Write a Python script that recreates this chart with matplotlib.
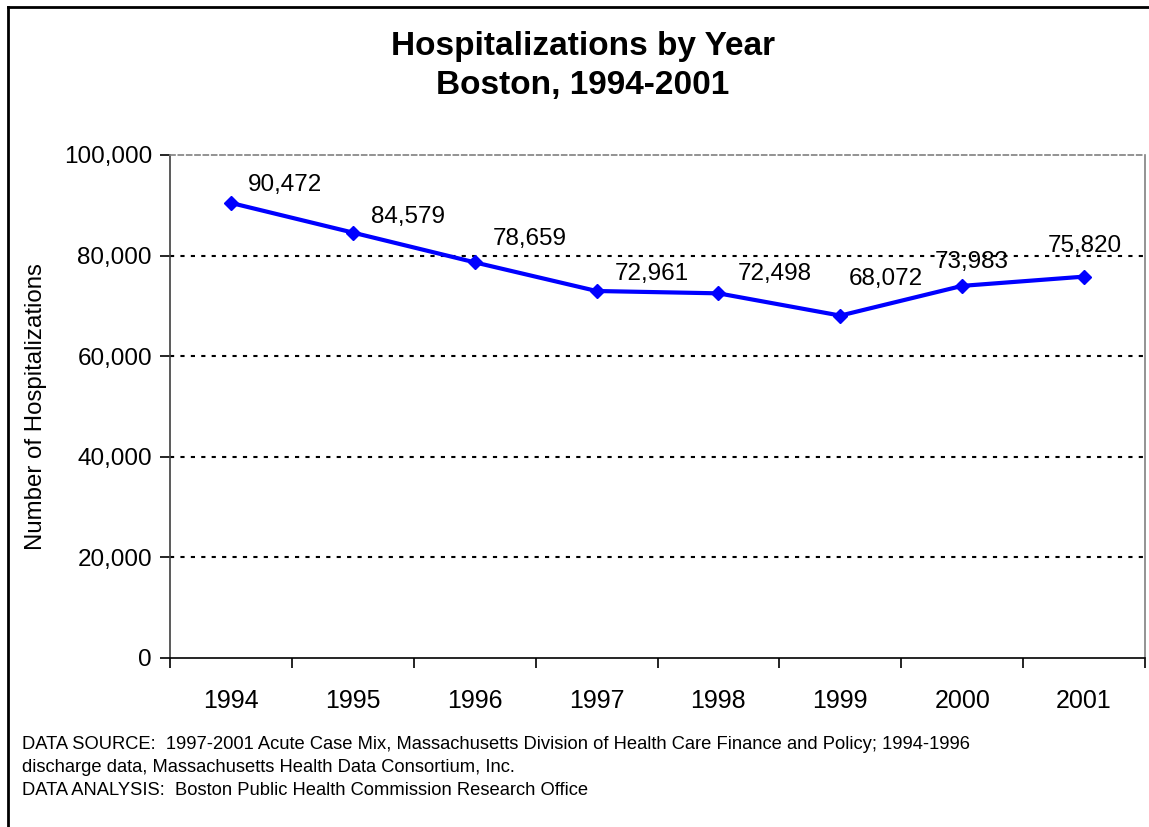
import matplotlib.pyplot as plt
from matplotlib.lines import Line2D
from matplotlib.ticker import FuncFormatter

plt.rcParams['font.family'] = ['Liberation Sans', 'DejaVu Sans']

years = ['1994', '1995', '1996', '1997', '1998', '1999', '2000', '2001']
hospitalizations = [90472, 84579, 78659, 72961, 72498, 68072, 73983, 75820]
# label offsets in pixels (dx, dy)
label_offsets = [(17, 18), (18, 16), (18, 23), (18, 17), (19, 19), (8, 37), (-27, 24), (-36, 31)]

W, H = 1149, 827
fig = plt.figure(figsize=(W / 100, H / 100), dpi=100)
ax = fig.add_axes([170 / W, 1 - 658 / H, 975 / W, 503 / H])

x = list(range(len(years)))
ax.plot(x, hospitalizations, color='#0000ff', lw=3, marker='D', ms=7, zorder=3)

for xi, v, (dx, dy) in zip(x, hospitalizations, label_offsets):
    ax.annotate(f'{v:,}', (xi, v), xytext=(dx, dy), textcoords='offset pixels',
                ha='left', va='center', fontsize=17.5, zorder=4)

ax.set_xlim(-0.5, len(years) - 0.5)
ax.set_ylim(0, 100000)
ax.set_yticks(range(0, 100001, 20000))
ax.yaxis.set_major_formatter(FuncFormatter(lambda v, p: f'{int(v):,}'))
ax.tick_params(axis='y', labelsize=17.5, length=7, width=1.2, pad=6)

ax.set_xticks(x)
ax.set_xticklabels(years)
ax.set_xticks([i - 0.5 for i in range(len(years) + 1)], minor=True)
ax.tick_params(axis='x', which='major', length=0, labelsize=18, pad=22)
ax.tick_params(axis='x', which='minor', length=7, width=1.2)

for yv in range(20000, 100000, 20000):
    ax.axhline(yv, color='black', lw=1.5, linestyle=(0, (2, 3)), zorder=1)

ax.spines['top'].set_color('#808080')
ax.spines['top'].set_linestyle((0, (3, 2)))
ax.spines['right'].set_color('#808080')
ax.spines['left'].set_color('#404040')
ax.spines['bottom'].set_color('black')
for s in ax.spines.values():
    s.set_linewidth(1.2)

ax.set_ylabel('Number of Hospitalizations', fontsize=17.3)
ax.yaxis.set_label_coords((47 - 170) / 975, 0.5)

fig.text(583 / W, 1 - 66 / H, 'Hospitalizations by Year\nBoston, 1994-2001',
         ha='center', va='center', fontsize=24, fontweight='bold', linespacing=1.3)

footer = ('DATA SOURCE:  1997-2001 Acute Case Mix, Massachusetts Division of Health Care Finance and Policy; 1994-1996\n'
          'discharge data, Massachusetts Health Data Consortium, Inc.\n'
          'DATA ANALYSIS:  Boston Public Health Commission Research Office')
fig.text(22 / W, 1 - 736 / H, footer, ha='left', va='top', fontsize=13.2, linespacing=1.45)

# outer border (left and top only are visible)
fig.add_artist(Line2D([8 / W, 8 / W], [0, 1 - 7 / H], color='black', lw=2))
fig.add_artist(Line2D([8 / W, 1], [1 - 7 / H, 1 - 7 / H], color='black', lw=2))

fig.savefig('out.png', dpi=100)
